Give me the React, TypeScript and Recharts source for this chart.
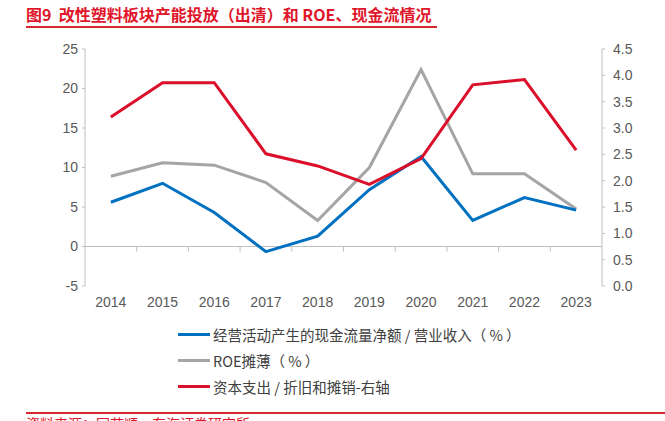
import React from 'react';
import { LineChart, Line, XAxis, YAxis, ReferenceLine } from 'recharts';

const years = ['2014', '2015', '2016', '2017', '2018', '2019', '2020', '2021', '2022', '2023'];
const cashFlow = [5.6, 8.0, 4.3, -0.65, 1.3, 7.2, 11.4, 3.3, 6.2, 4.6];
const roe = [8.9, 10.6, 10.3, 8.1, 3.3, 10.0, 22.4, 9.2, 9.2, 4.75];
const capex = [3.21, 3.86, 3.86, 2.51, 2.28, 1.93, 2.42, 3.82, 3.92, 2.58];
const leftTicks = [-5, 0, 5, 10, 15, 20, 25];
const rightTicks = [0, 0.5, 1, 1.5, 2, 2.5, 3, 3.5, 4, 4.5];

const data = years.map((year, i) => ({
  year,
  cashFlow: cashFlow[i],
  roe: roe[i],
  capex: capex[i],
}));

const W = 665;
const H = 421;
const PLOT_TOP = 49;
const PLOT_BOTTOM = 286;
const PLOT_LEFT = 85;
const PLOT_RIGHT = 602;
const AXIS_W = 50;
const XAXIS_H = 30;
const PLOT_H = PLOT_BOTTOM - PLOT_TOP;
const BAND = (PLOT_RIGHT - PLOT_LEFT) / years.length;
const ZERO_UP = (PLOT_H * (0 - leftTicks[0])) / (leftTicks[leftTicks.length - 1] - leftTicks[0]);

const AXIS_GREY = '#bfbfbf';
const TEXT_GREY = '#595959';
const FONT = '"Liberation Sans", Arial, sans-serif';
const CJK = '"Noto Sans CJK SC", "Liberation Sans", sans-serif';

const XTick = (props: any) => {
  const { x, payload, index } = props;
  const bx = x - BAND / 2;
  const zy = PLOT_BOTTOM - ZERO_UP;
  return (
    <g>
      {index > 0 && <line x1={bx} x2={bx} y1={zy} y2={zy + 5} stroke={AXIS_GREY} strokeWidth={1} />}
      <text x={x} y={PLOT_BOTTOM + 21} textAnchor="middle" fontSize={14} fill={TEXT_GREY} fontFamily={FONT}>
        {payload.value}
      </text>
    </g>
  );
};

const legendItems = [
  { color: '#0070c0', label: '经营活动产生的现金流量净额 / 营业收入（ % ）' },
  { color: '#a5a5a5', label: 'ROE摊薄（ % ）' },
  { color: '#dc0f2a', label: '资本支出 / 折旧和摊销-右轴' },
];

const ChartLegend = () => (
  <div style={{ position: 'absolute', left: 178, top: 321 }}>
    {legendItems.map((item) => (
      <div key={item.label} style={{ display: 'flex', alignItems: 'center', height: 26 }}>
        <div style={{ width: 32, height: 3, background: item.color, marginRight: 3 }} />
        <span style={{ fontFamily: CJK, fontSize: 14.5, color: '#404040', whiteSpace: 'pre' }}>{item.label}</span>
      </div>
    ))}
  </div>
);

export default function App() {
  return (
    <div style={{ position: 'absolute', left: 0, top: 0, width: W, height: H, overflow: 'hidden', background: '#fff' }}>
      <div
        style={{
          position: 'absolute',
          left: 26,
          top: 3,
          width: 411,
          height: 23,
          borderBottom: '2px solid #d7282f',
          fontFamily: CJK,
          fontWeight: 'bold',
          fontSize: 16,
          color: '#e0162b',
          whiteSpace: 'pre',
          lineHeight: '22px',
        }}
      >
        {'图9  改性塑料板块产能投放（出清）和 ROE、现金流情况'}
      </div>
      <div style={{ position: 'absolute', left: 0, top: 0 }}>
        <LineChart
          width={W}
          height={PLOT_BOTTOM + XAXIS_H + 4}
          data={data}
          margin={{ top: PLOT_TOP, bottom: 4, left: PLOT_LEFT - AXIS_W, right: W - PLOT_RIGHT - AXIS_W }}
        >
          <XAxis
            dataKey="year"
            height={XAXIS_H}
            axisLine={false}
            tickLine={false}
            interval={0}
            padding={{ left: BAND / 2, right: BAND / 2 }}
            tick={<XTick />}
          />
          <YAxis
            yAxisId="left"
            width={AXIS_W}
            domain={[leftTicks[0], leftTicks[leftTicks.length - 1]]}
            ticks={leftTicks}
            interval={0}
            axisLine={{ stroke: AXIS_GREY }}
            tickLine={{ stroke: AXIS_GREY }}
            tickSize={3}
            tickMargin={4}
            tick={{ fontSize: 14, fill: TEXT_GREY, fontFamily: FONT }}
          />
          <YAxis
            yAxisId="right"
            orientation="right"
            width={AXIS_W}
            domain={[rightTicks[0], rightTicks[rightTicks.length - 1]]}
            ticks={rightTicks}
            interval={0}
            axisLine={{ stroke: AXIS_GREY }}
            tickLine={{ stroke: AXIS_GREY }}
            tickSize={3}
            tickMargin={8}
            tickFormatter={(v: number) => v.toFixed(1)}
            tick={{ fontSize: 14, fill: TEXT_GREY, fontFamily: FONT }}
          />
          <ReferenceLine yAxisId="left" y={0} stroke={AXIS_GREY} strokeWidth={1} />
          <Line yAxisId="left" type="linear" dataKey="roe" stroke="#a5a5a5" strokeWidth={3} dot={false} isAnimationActive={false} />
          <Line yAxisId="left" type="linear" dataKey="cashFlow" stroke="#0070c0" strokeWidth={3} dot={false} isAnimationActive={false} />
          <Line yAxisId="right" type="linear" dataKey="capex" stroke="#dc0f2a" strokeWidth={3} dot={false} isAnimationActive={false} />
        </LineChart>
      </div>
      <ChartLegend />
      <div style={{ position: 'absolute', left: 26, top: 412, width: W - 26, borderTop: '2px solid #d7282f' }} />
      <div
        style={{
          position: 'absolute',
          left: 26,
          top: 415,
          fontFamily: CJK,
          fontSize: 14,
          color: '#e0162b',
          whiteSpace: 'nowrap',
          lineHeight: '16px',
        }}
      >
        资料来源：同花顺，东海证券研究所
      </div>
    </div>
  );
}
